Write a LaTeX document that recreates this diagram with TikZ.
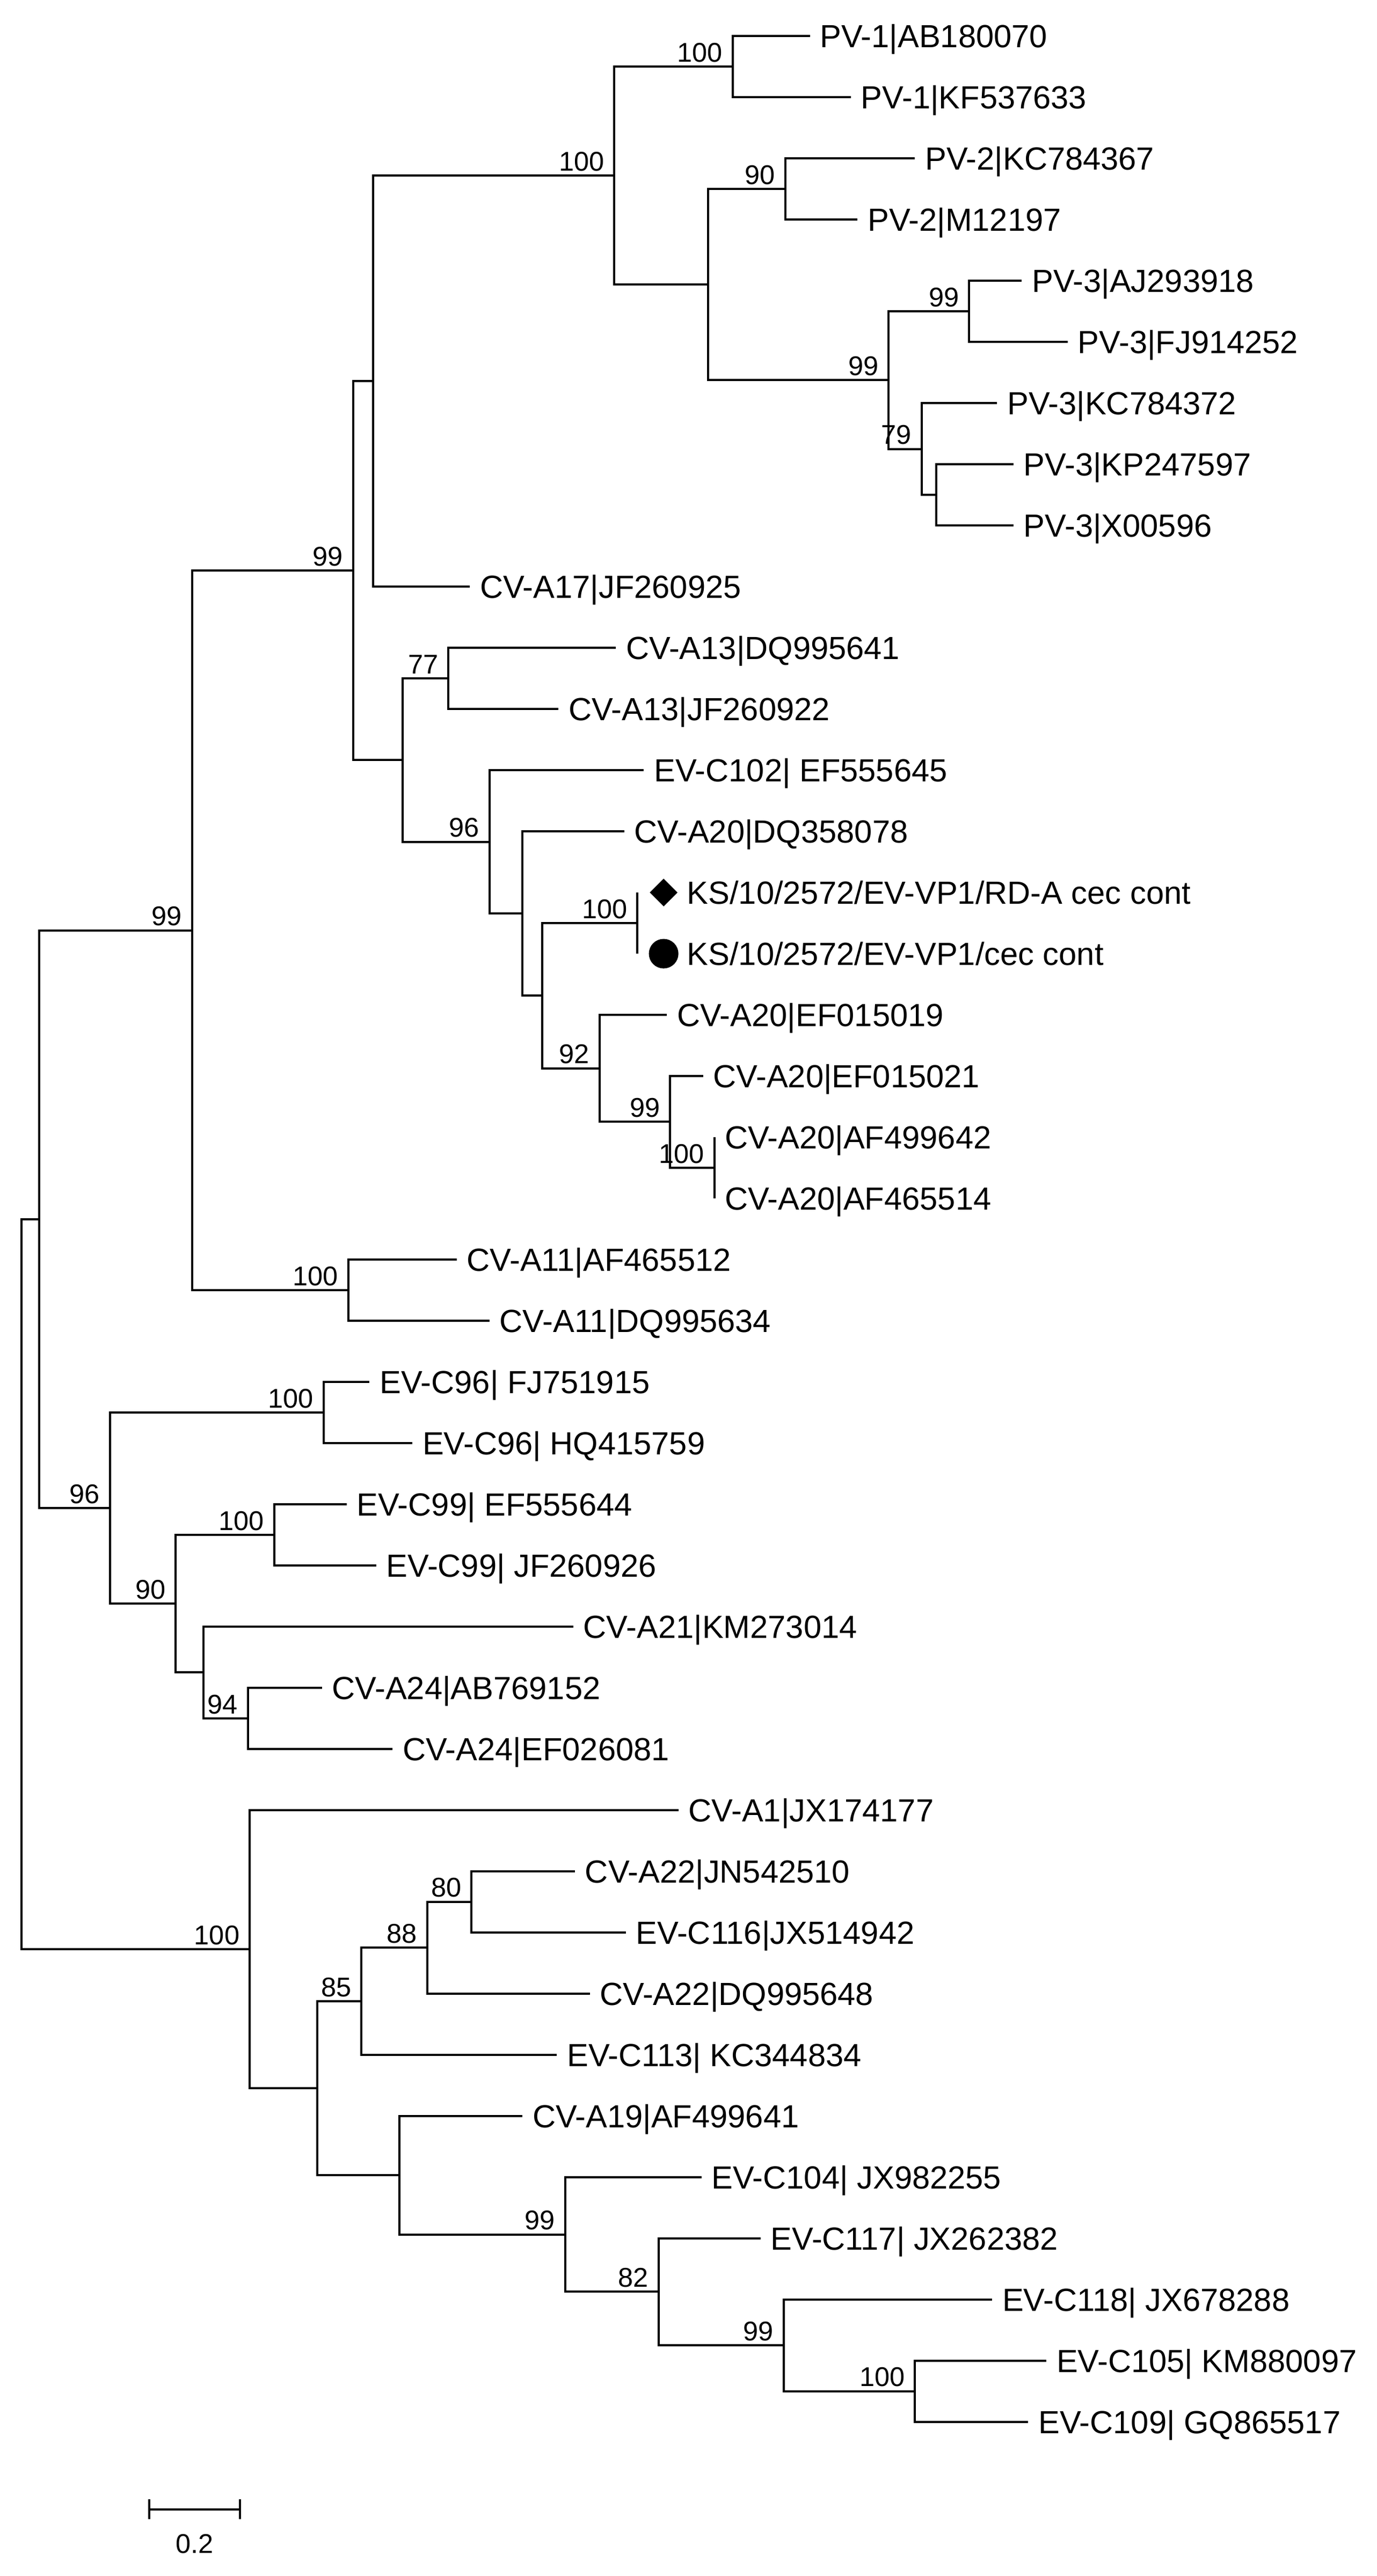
\documentclass[tikz,border=0pt]{standalone}
\usepackage{fontspec}
\setmainfont{Liberation Sans}
\usetikzlibrary{calc,shapes.geometric}
\tikzset{
  br/.style={line width=1.3pt,black},
  leaf/.style={anchor=west,inner xsep=6pt,inner ysep=0pt,text height=14pt,text depth=0pt,font=\fontsize{19.5}{22}\selectfont},
  bsl/.style={inner sep=0pt,font=\fontsize{16.5}{18}\selectfont},
}
\newcommand\lf[4]{\node[leaf] (#1) at (#2,#3) {#4};}
\newcommand\pn[4]{\path let \p1=($(#3)!0.5!(#4)$) in (#2,\y1) coordinate (#1); \draw[br] (#1) |- (#3); \draw[br] (#1) |- (#4);}
\newcommand\bs[2]{\node[bsl,anchor=south east] (b#1) at ($(#1)+(-6,-2.5)$) {#2};}
\begin{document}
\begin{tikzpicture}[x=1pt,y=-1pt]
\useasboundingbox (0,0) rectangle (838,1568.7);
\lf{L1}{493}{22}{PV-1|AB180070}
\lf{L2}{518}{59.25}{PV-1|KF537633}
\lf{L3}{557}{96.5}{PV-2|KC784367}
\lf{L4}{522}{133.75}{PV-2|M12197}
\lf{L5}{622}{171}{PV-3|AJ293918}
\lf{L6}{650}{208.25}{PV-3|FJ914252}
\lf{L7}{607}{245.5}{PV-3|KC784372}
\lf{L8}{617}{282.75}{PV-3|KP247597}
\lf{L9}{617}{320}{PV-3|X00596}
\lf{L10}{286}{357.25}{CV-A17|JF260925}
\lf{L11}{375}{394.5}{CV-A13|DQ995641}
\lf{L12}{340}{431.75}{CV-A13|JF260922}
\lf{L13}{392}{469}{EV-C102| EF555645}
\lf{L14}{380}{506.25}{CV-A20|DQ358078}
\lf{L15}{388}{543.5}{\hspace*{24pt}KS/10/2572/EV-VP1/RD-A cec cont}
\lf{L16}{388}{580.75}{\hspace*{24pt}KS/10/2572/EV-VP1/cec cont}
\lf{L17}{406}{618}{CV-A20|EF015019}
\lf{L18}{428}{655.25}{CV-A20|EF015021}
\lf{L19}{435}{692.5}{CV-A20|AF499642}
\lf{L20}{435}{729.75}{CV-A20|AF465514}
\lf{L21}{278}{767}{CV-A11|AF465512}
\lf{L22}{298}{804.25}{CV-A11|DQ995634}
\lf{L23}{225}{841.5}{EV-C96| FJ751915}
\lf{L24}{251}{878.75}{EV-C96| HQ415759}
\lf{L25}{211}{916}{EV-C99| EF555644}
\lf{L26}{229}{953.25}{EV-C99| JF260926}
\lf{L27}{349}{990.5}{CV-A21|KM273014}
\lf{L28}{196}{1027.75}{CV-A24|AB769152}
\lf{L29}{239}{1065}{CV-A24|EF026081}
\lf{L30}{413}{1102.25}{CV-A1|JX174177}
\lf{L31}{350}{1139.5}{CV-A22|JN542510}
\lf{L32}{381}{1176.75}{EV-C116|JX514942}
\lf{L33}{359}{1214}{CV-A22|DQ995648}
\lf{L34}{339}{1251.25}{EV-C113| KC344834}
\lf{L35}{318}{1288.5}{CV-A19|AF499641}
\lf{L36}{427}{1325.75}{EV-C104| JX982255}
\lf{L37}{463}{1363}{EV-C117| JX262382}
\lf{L38}{604}{1400.25}{EV-C118| JX678288}
\lf{L39}{637}{1437.5}{EV-C105| KM880097}
\lf{L40}{626}{1474.75}{EV-C109| GQ865517}
\node[diamond,fill=black,inner sep=0pt,minimum size=17pt] (dia) at (404,543.5) {};
\node[circle,fill=black,inner sep=0pt,minimum size=18pt] (cir) at (404,580.75) {};
% PV clade
\pn{PV1}{446}{L1.west}{L2.west}\bs{PV1}{100}
\pn{PV2}{478}{L3.west}{L4.west}\bs{PV2}{90}
\pn{PV3a}{590}{L5.west}{L6.west}\bs{PV3a}{99}
\pn{PV3c}{570}{L8.west}{L9.west}
\pn{PV3b}{561}{L7.west}{PV3c}\bs{PV3b}{79}
\pn{PV3}{541}{PV3a}{PV3b}\bs{PV3}{99}
\pn{P23}{431}{PV2}{PV3}
\pn{PVall}{374}{PV1}{P23}\bs{PVall}{100}
\pn{N227}{227}{PVall}{L10.west}
\pn{A13}{273}{L11.west}{L12.west}\bs{A13}{77}
\pn{KSn}{388}{L15.west}{L16.west}\bs{KSn}{100}
\pn{AFn}{435}{L19.west}{L20.west}\bs{AFn}{100}
\pn{N408}{408}{L18.west}{AFn}\bs{N408}{99}
\pn{N365}{365}{L17.west}{N408}\bs{N365}{92}
\pn{N330}{330}{KSn}{N365}
\pn{N318}{318}{L14.west}{N330}
\pn{N298}{298}{L13.west}{N318}\bs{N298}{96}
\pn{N245}{245}{A13}{N298}
\pn{N215}{215}{N227}{N245}\bs{N215}{99}
\pn{A11}{212}{L21.west}{L22.west}\bs{A11}{100}
\pn{N117}{117}{N215}{A11}\bs{N117}{99}
\pn{C96}{197}{L23.west}{L24.west}\bs{C96}{100}
\pn{C99}{167}{L25.west}{L26.west}\bs{C99}{100}
\pn{A24}{151}{L28.west}{L29.west}\bs{A24}{94}
\pn{N124}{124}{L27.west}{A24}
\pn{N107}{107}{C99}{N124}\bs{N107}{90}
\pn{N67}{67}{C96}{N107}\bs{N67}{96}
\pn{N24}{24}{N117}{N67}
\pn{C287}{287}{L31.west}{L32.west}\bs{C287}{80}
\pn{N260}{260}{C287}{L33.west}\bs{N260}{88}
\pn{N220}{220}{N260}{L34.west}\bs{N220}{85}
\pn{C557}{557}{L39.west}{L40.west}\bs{C557}{100}
\pn{N477}{477}{L38.west}{C557}\bs{N477}{99}
\pn{N401}{401}{L37.west}{N477}\bs{N401}{82}
\pn{N344}{344}{L36.west}{N401}\bs{N344}{99}
\pn{N243}{243}{L35.west}{N344}
\pn{N193}{193}{N220}{N243}
\pn{N152}{152}{L30.west}{N193}\bs{N152}{100}
\pn{root}{13}{N24}{N152}
% scale bar
\coordinate (sa) at (91,1528);
\coordinate (sb) at (146,1528);
\draw[br] (sa) -- (sb);
\draw[br] ($(sa)+(0,-6)$) -- ($(sa)+(0,6)$);
\draw[br] ($(sb)+(0,-6)$) -- ($(sb)+(0,6)$);
\node[bsl] (sl) at (118.5,1549) {0.2};
\end{tikzpicture}
\end{document}
